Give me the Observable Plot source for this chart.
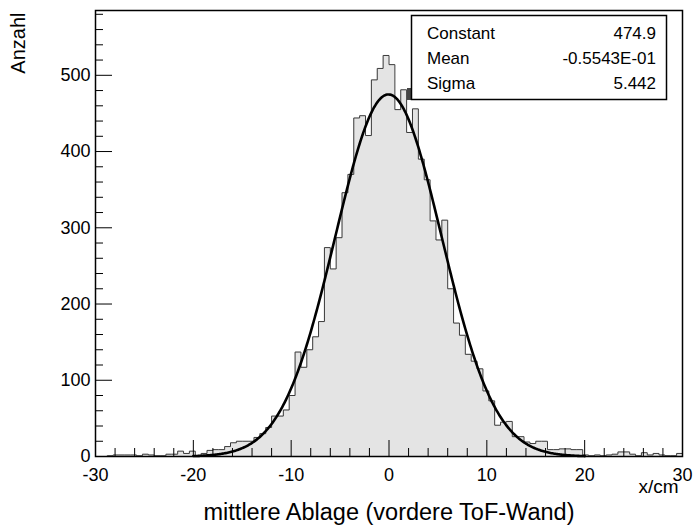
<!DOCTYPE html>
<html><head><meta charset="utf-8">
<script src="https://cdn.jsdelivr.net/npm/d3@7"></script>
<script src="https://cdn.jsdelivr.net/npm/@observablehq/plot@0.6"></script>
<style>
body{margin:0;background:#fff;font-family:"Liberation Sans",Arial,Helvetica,sans-serif}
#chart svg{display:block}
</style>
</head><body><div id="chart"></div>
<script>
// ---- data ----
const binStart = -30;
const binWidth = 0.6;
const counts = [
  0, 0, 1, 2, 2, 2, 2, 1, 3, 2,        // -30.0 .. -24.6
  1, 1, 3, 3, 7, 4, 7, 1, 4, 8,        // -24.0 .. -18.6
  9, 9, 13, 18, 20, 20, 20, 25, 30, 38, // -18.0 .. -12.6
  53, 53, 61, 80, 137, 117, 140, 157, 177, 274, // -12.0 .. -6.6
  246, 287, 346, 370, 444, 447, 421, 494, 509, 526, // -6.0 .. -0.6
  514, 455, 481, 425, 456, 390, 363, 309, 284, 310, // 0.0 .. 5.4
  220, 175, 159, 134, 125, 115, 86, 73, 41, 45,     // 6.0 .. 11.4
  46, 26, 26, 19, 17, 20, 20, 9, 9, 10,             // 12.0 .. 17.4
  10, 9, 9, 2, 1, 2, 1, 2, 3, 6,                    // 18.0 .. 23.4
  6, 3, 1, 5, 2, 4, 2, 1, 1, 4                      // 24.0 .. 29.4
];
const xTickLabels = [-30, -20, -10, 0, 10, 20, 30];
const xMinorTicks = [-28,-26,-24,-22,-18,-16,-14,-12,-8,-6,-4,-2,2,4,6,8,12,14,16,18,22,24,26,28];
const yTickLabels = [0, 100, 200, 300, 400, 500];
const yMinorTicks = [20,40,60,80,120,140,160,180,220,240,260,280,320,340,360,380,420,440,460,480,520,540,560,580];
const fitConstant = 474.9;
const fitMean = -0.05543;
const fitSigma = 5.442;
const fitRange = [-20, 20];
const statLabels = ["Constant", "Mean", "Sigma"];
const statValues = ["474.9", "-0.5543E-01", "5.442"];
const xTitle = "mittlere Ablage (vordere ToF-Wand)";
const xUnit = "x/cm";
const yTitle = "Anzahl";

// ---- derived tables ----
const bins = counts.map((c, i) => ({x1: binStart + i * binWidth, x2: binStart + (i + 1) * binWidth, y: c}));
const steps = bins.map(d => ({x: d.x1, y: d.y})).concat([{x: bins[bins.length - 1].x2, y: counts[counts.length - 1]}]);
const fitPts = d3.range(fitRange[0], fitRange[1] + 1e-9, 0.1).map(x => ({
  x, y: fitConstant * Math.exp(-0.5 * ((x - fitMean) / fitSigma) ** 2)
}));

const plot = Plot.plot({
  width: 696, height: 529,
  marginLeft: 95, marginRight: 14, marginTop: 10, marginBottom: 73,
  x: {domain: [-30, 30], label: null},
  y: {domain: [0, 585], label: null},
  style: {fontFamily: '"Liberation Sans", Arial, Helvetica, sans-serif', background: "white", color: "black"},
  marks: [
    Plot.areaY(steps, {x: "x", y1: 0, y2: "y", curve: "step-after", fill: "#e4e4e4"}),
    Plot.line(steps, {x: "x", y: "y", curve: "step-after", stroke: "#3a3a3a", strokeWidth: 1}),
    Plot.line(fitPts, {x: "x", y: "y", stroke: "black", strokeWidth: 2.6}),
    Plot.ruleX(xTickLabels, {x: d => d, y1: 0, y2: 0, insetBottom: 16, stroke: "black", strokeWidth: 1}),
    Plot.ruleX(xMinorTicks, {x: d => d, y1: 0, y2: 0, insetBottom: 8, stroke: "black", strokeWidth: 1}),
    Plot.ruleY(yTickLabels, {y: d => d, x1: -30, x2: -30, insetRight: -17, stroke: "black", strokeWidth: 1}),
    Plot.ruleY(yMinorTicks, {y: d => d, x1: -30, x2: -30, insetRight: -8, stroke: "black", strokeWidth: 1}),
    Plot.axisX({ticks: xTickLabels, tickSize: 0, tickPadding: 12, fontSize: 18, tickFormat: d => String(d), label: null}),
    Plot.axisY({ticks: yTickLabels, tickSize: 0, tickPadding: 5, fontSize: 18, tickFormat: d => String(d), label: null}),
    Plot.frame({stroke: "black", strokeWidth: 1.5}),
    Plot.text([xTitle], {frameAnchor: "bottom", dy: 63, fontSize: 23.5, fill: "black"}),
    Plot.text([xUnit], {frameAnchor: "bottom-right", dy: 36, dx: -4, textAnchor: "end", fontSize: 19, fill: "black"}),
    Plot.text([yTitle], {frameAnchor: "top-left", dx: -85, dy: 2, rotate: -90, textAnchor: "end", fontSize: 20, fill: "black"})
  ]
});

// statistics box (ROOT-style fit panel)
const svg = d3.select(plot);
const box = svg.append("g").attr("font-family", '"Liberation Sans", Arial, sans-serif').attr("font-size", 17).attr("fill", "black");
box.append("rect").attr("x", 407).attr("y", 88).attr("width", 4).attr("height", 12).attr("fill", "#444");
box.append("rect").attr("x", 411.5).attr("y", 15.5).attr("width", 255).attr("height", 84)
  .attr("fill", "white").attr("stroke", "black").attr("stroke-width", 1.5);
statLabels.forEach((lab, i) => {
  const yy = 33 + i * 25;
  box.append("text").attr("x", 427).attr("y", yy).attr("dy", "0.35em").attr("text-anchor", "start").text(lab);
  box.append("text").attr("x", 656).attr("y", yy).attr("dy", "0.35em").attr("text-anchor", "end").text(statValues[i]);
});

document.getElementById("chart").appendChild(plot);
</script>
</body></html>
